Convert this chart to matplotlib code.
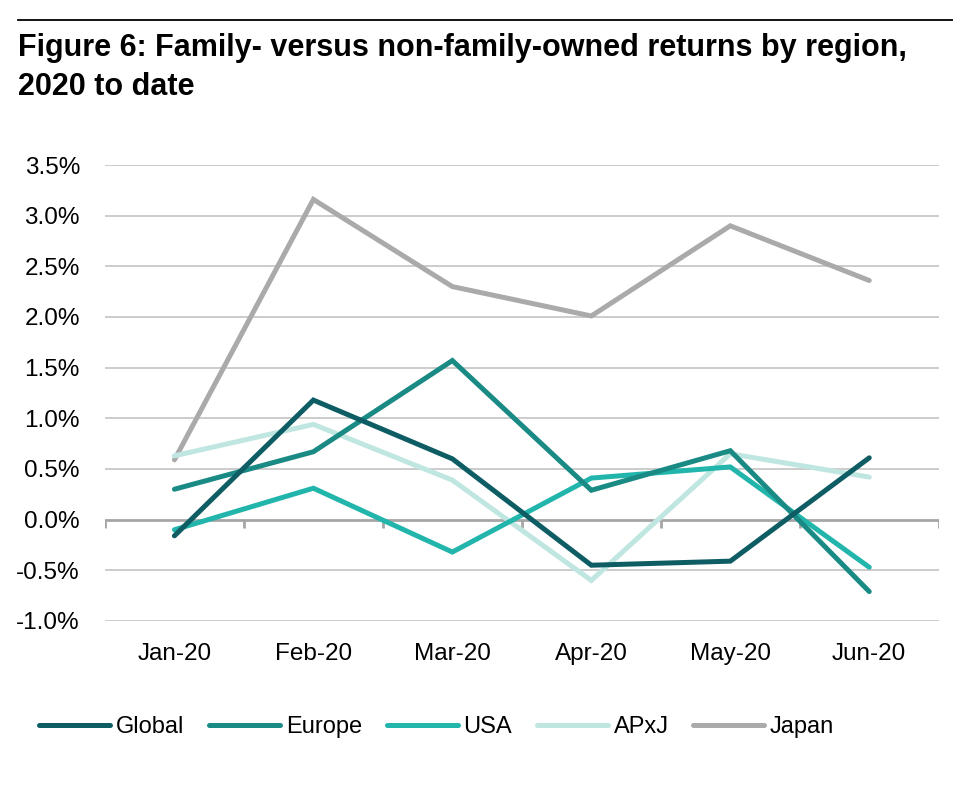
import matplotlib.pyplot as plt
from matplotlib.lines import Line2D

plt.rcParams['font.family'] = ['Liberation Sans', 'DejaVu Sans']

# 데이터
months = ['Jan-20', 'Feb-20', 'Mar-20', 'Apr-20', 'May-20', 'Jun-20']
global_ret = [-0.16, 1.18, 0.60, -0.45, -0.41, 0.61]
europe_ret = [0.30, 0.67, 1.57, 0.29, 0.68, -0.71]
usa_ret = [-0.10, 0.31, -0.32, 0.41, 0.52, -0.47]
apxj_ret = [0.63, 0.94, 0.39, -0.60, 0.65, 0.42]
japan_ret = [0.59, 3.16, 2.30, 2.01, 2.90, 2.36]
y_ticks = [-1.0, -0.5, 0.0, 0.5, 1.0, 1.5, 2.0, 2.5, 3.0, 3.5]

series = [
    ('Global', global_ret, '#0e5d64'),
    ('Europe', europe_ret, '#1a8a84'),
    ('USA', usa_ret, '#22b5ac'),
    ('APxJ', apxj_ret, '#c0e6e1'),
    ('Japan', japan_ret, '#aaaaaa'),
]

fig = plt.figure(figsize=(9.54, 7.88), dpi=100)
ax = fig.add_axes([0.110, 0.212, 0.874, 0.5786])

x = list(range(len(months)))

# 그리드와 0축
for t in y_ticks:
    if t != 0:
        ax.axhline(t, color='#c4c4c4', lw=1.2, zorder=1)

# 시리즈 (Japan, APxJ 먼저 그려서 아래에 깔리게)
for name, vals, col in series[::-1]:
    ax.plot(x, vals, color=col, lw=3.6, solid_capstyle='round',
            solid_joinstyle='miter', zorder=3)

ax.axhline(0, color='#a6a6a6', lw=2, zorder=2)
ax.vlines([i - 0.5 for i in range(len(months) + 1)], -0.08, 0,
          color='#a6a6a6', lw=2, zorder=2)

ax.set_xlim(-0.5, len(months) - 0.5)
ax.set_ylim(-1.0, 3.5)
ax.set_yticks(y_ticks)
ax.set_yticklabels([f'{t:.1f}%' for t in y_ticks], fontsize=17.5)
ax.set_xticks(x)
ax.set_xticklabels(months, fontsize=17.5)
ax.tick_params(axis='both', length=0)
ax.tick_params(axis='y', pad=18)
ax.tick_params(axis='x', pad=16)
for s in ax.spines.values():
    s.set_visible(False)

# 제목과 상단 선
fig.add_artist(Line2D([18 / 954, 1.0], [1 - 20 / 788, 1 - 20 / 788],
                      color='black', lw=1.3))
fig.text(18 / 954, 1 - 33 / 788,
         'Figure 6: Family- versus non-family-owned returns by region,\n2020 to date',
         fontsize=22, fontweight='bold', va='top', ha='left', linespacing=1.4)

handles = [Line2D([], [], color=c, lw=3.6, solid_capstyle='round') for _, _, c in series]
fig.legend(handles, [n for n, _, _ in series], loc='center left',
           bbox_to_anchor=(0.041, 0.077), ncol=5, frameon=False, fontsize=17,
           handlelength=3.0, handletextpad=0.25, columnspacing=1.05,
           borderpad=0, borderaxespad=0)

fig.savefig('out.png', dpi=100)
